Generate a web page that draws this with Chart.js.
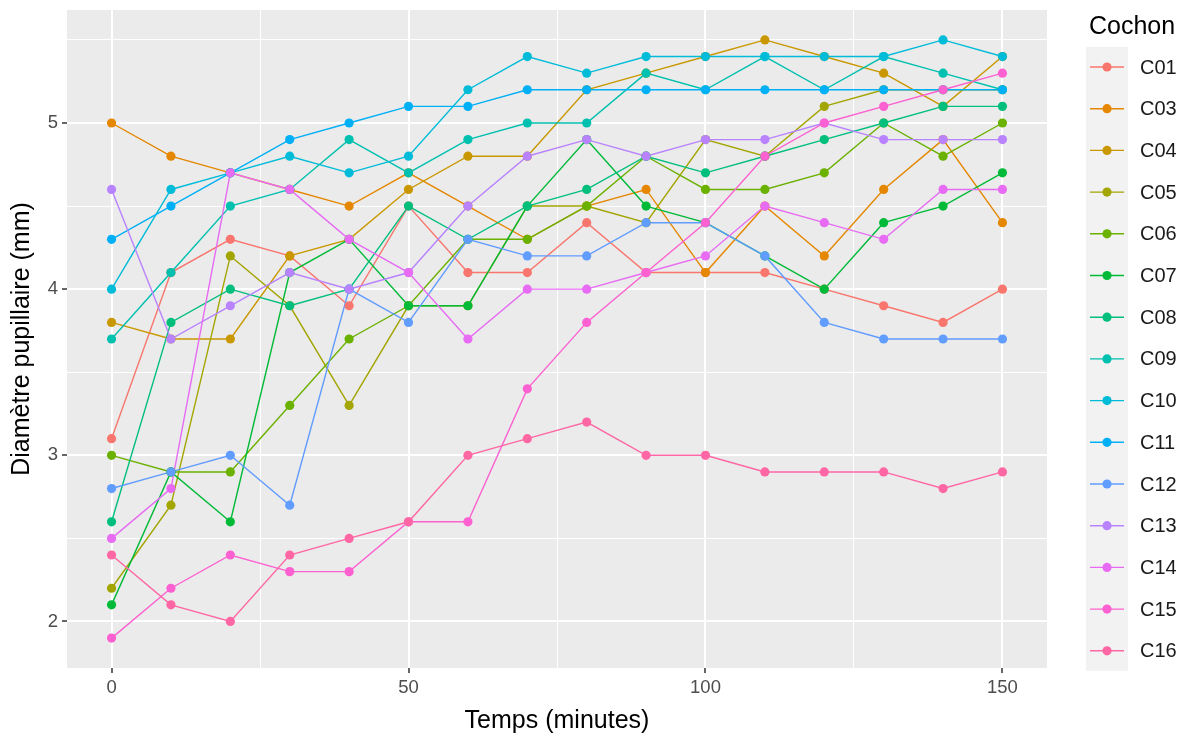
<!DOCTYPE html>
<html lang="fr">
<head>
  <meta charset="UTF-8" />
  <title>Diamètre pupillaire</title>
  <script src="https://cdn.jsdelivr.net/npm/chart.js"></script>
  <style>
    html, body { margin: 0; padding: 0; background: #fff; }
    #wrap { width: 1190px; height: 740px; }
  </style>
</head>
<body>
  <div id="wrap"><canvas id="chart" width="1190" height="740"></canvas></div>

  <script>
    // temps de mesure (minutes)
    const temps = [0, 10, 20, 30, 40, 50, 60, 70, 80, 90, 100, 110, 120, 130, 140, 150];

    // diamètre pupillaire (mm) par cochon
    const C01 = [3.1, 4.1, 4.3, 4.2, 3.9, 4.5, 4.1, 4.1, 4.4, 4.1, 4.1, 4.1, 4.0, 3.9, 3.8, 4.0];
    const C03 = [5.0, 4.8, 4.7, 4.6, 4.5, 4.7, 4.5, 4.3, 4.5, 4.6, 4.1, 4.5, 4.2, 4.6, 4.9, 4.4];
    const C04 = [3.8, 3.7, 3.7, 4.2, 4.3, 4.6, 4.8, 4.8, 5.2, 5.3, 5.4, 5.5, 5.4, 5.3, 5.1, 5.4];
    const C05 = [2.2, 2.7, 4.2, 3.9, 3.3, 3.9, 3.9, 4.5, 4.5, 4.4, 4.9, 4.8, 5.1, 5.2, 5.2, 5.2];
    const C06 = [3.0, 2.9, 2.9, 3.3, 3.7, 3.9, 4.3, 4.3, 4.5, 4.8, 4.6, 4.6, 4.7, 5.0, 4.8, 5.0];
    const C07 = [2.1, 2.9, 2.6, 4.1, 4.3, 3.9, 3.9, 4.5, 4.9, 4.5, 4.4, 4.2, 4.0, 4.4, 4.5, 4.7];
    const C08 = [2.6, 3.8, 4.0, 3.9, 4.0, 4.5, 4.3, 4.5, 4.6, 4.8, 4.7, 4.8, 4.9, 5.0, 5.1, 5.1];
    const C09 = [3.7, 4.1, 4.5, 4.6, 4.9, 4.7, 4.9, 5.0, 5.0, 5.3, 5.2, 5.4, 5.2, 5.4, 5.3, 5.2];
    const C10 = [4.0, 4.6, 4.7, 4.8, 4.7, 4.8, 5.2, 5.4, 5.3, 5.4, 5.4, 5.4, 5.4, 5.4, 5.5, 5.4];
    const C11 = [4.3, 4.5, 4.7, 4.9, 5.0, 5.1, 5.1, 5.2, 5.2, 5.2, 5.2, 5.2, 5.2, 5.2, 5.2, 5.2];
    const C12 = [2.8, 2.9, 3.0, 2.7, 4.0, 3.8, 4.3, 4.2, 4.2, 4.4, 4.4, 4.2, 3.8, 3.7, 3.7, 3.7];
    const C13 = [4.6, 3.7, 3.9, 4.1, 4.0, 4.1, 4.5, 4.8, 4.9, 4.8, 4.9, 4.9, 5.0, 4.9, 4.9, 4.9];
    const C14 = [2.5, 2.8, 4.7, 4.6, 4.3, 4.1, 3.7, 4.0, 4.0, 4.1, 4.2, 4.5, 4.4, 4.3, 4.6, 4.6];
    const C15 = [1.9, 2.2, 2.4, 2.3, 2.3, 2.6, 2.6, 3.4, 3.8, 4.1, 4.4, 4.8, 5.0, 5.1, 5.2, 5.3];
    const C16 = [2.4, 2.1, 2.0, 2.4, 2.5, 2.6, 3.0, 3.1, 3.2, 3.0, 3.0, 2.9, 2.9, 2.9, 2.8, 2.9];

    const cochons = ['C01', 'C03', 'C04', 'C05', 'C06', 'C07', 'C08', 'C09', 'C10', 'C11', 'C12', 'C13', 'C14', 'C15', 'C16'];
    const series = [C01, C03, C04, C05, C06, C07, C08, C09, C10, C11, C12, C13, C14, C15, C16];
    const couleurs = ['#F8766D', '#E58700', '#C99800', '#A3A500', '#6BB100', '#00BA38', '#00BF7D', '#00C0AF',
                      '#00BCD8', '#00B0F6', '#619CFF', '#B983FF', '#E76BF3', '#FD61D1', '#FF67A4'];

    // graduations
    const xMajeurs = [0, 50, 100, 150];
    const xMineurs = [25, 75, 125];
    const yMajeurs = [2, 3, 4, 5];
    const yMineurs = [2.5, 3.5, 4.5, 5.5];

    const POLICE = '"Liberation Sans", Arial, sans-serif';
    const n = series.length;

    // les lignes d'abord, les points par-dessus (comme geom_line + geom_point)
    const datasets = [];
    series.forEach((s, i) => {
      datasets.push({
        label: cochons[i],
        data: temps.map((t, k) => ({ x: t, y: s[k] })),
        borderColor: couleurs[i],
        borderWidth: 1.4,
        pointRadius: 0,
        order: 100 + (n - i)
      });
    });
    series.forEach((s, i) => {
      datasets.push({
        label: cochons[i] + ' pts',
        data: temps.map((t, k) => ({ x: t, y: s[k] })),
        showLine: false,
        backgroundColor: couleurs[i],
        pointBackgroundColor: couleurs[i],
        pointBorderWidth: 0,
        pointRadius: 4.6,
        order: n - i
      });
    });

    function echelle(majeurs, mineurs, min, max, titre, titrePadding, afterFit) {
      const estMajeur = ctx => ctx.tick && majeurs.includes(ctx.tick.value);
      return {
        type: 'linear',
        min: min,
        max: max,
        afterBuildTicks: s => { s.ticks = majeurs.concat(mineurs).sort((a, b) => a - b).map(v => ({ value: v })); },
        afterFit: afterFit,
        border: { display: false },
        grid: {
          color: '#FFFFFF',
          lineWidth: ctx => estMajeur(ctx) ? 2 : 1,
          tickColor: ctx => estMajeur(ctx) ? '#333333' : 'rgba(0,0,0,0)',
          tickLength: 5,
          tickWidth: 1.5
        },
        ticks: {
          autoSkip: false,
          maxRotation: 0,
          minRotation: 0,
          color: '#4D4D4D',
          font: { family: POLICE, size: 18.5 },
          padding: 4,
          callback: v => majeurs.includes(v) ? String(v) : ''
        },
        title: {
          display: true,
          text: titre,
          color: '#000000',
          padding: titrePadding,
          font: { family: POLICE, size: 25 }
        }
      };
    }

    const fondPanneau = {
      id: 'fondPanneau',
      beforeDraw(chart) {
        const { ctx, chartArea: a } = chart;
        ctx.save();
        ctx.fillStyle = '#FFFFFF';
        ctx.fillRect(0, 0, chart.width, chart.height);
        ctx.fillStyle = '#EBEBEB';
        ctx.fillRect(a.left, a.top, a.right - a.left, a.bottom - a.top);
        ctx.restore();
      }
    };

    // légende façon ggplot : titre, clés grisées avec trait + point
    const legendeCochon = {
      id: 'legendeCochon',
      afterDraw(chart) {
        const ctx = chart.ctx;
        const x0 = 1086, y0 = 67, pas = 41.7;
        ctx.save();
        ctx.fillStyle = '#000000';
        ctx.font = '25px ' + POLICE;
        ctx.textBaseline = 'middle';
        ctx.fillText('Cochon', 1089, 27);
        ctx.fillStyle = '#F2F2F2';
        ctx.fillRect(x0, y0 - 20, 42, pas * (n - 1) + 40);
        cochons.forEach((nom, i) => {
          const y = y0 + i * pas;
          ctx.strokeStyle = couleurs[i];
          ctx.lineWidth = 1.4;
          ctx.beginPath();
          ctx.moveTo(x0 + 4, y);
          ctx.lineTo(x0 + 38, y);
          ctx.stroke();
          ctx.fillStyle = couleurs[i];
          ctx.beginPath();
          ctx.arc(x0 + 21, y, 4.6, 0, Math.PI * 2);
          ctx.fill();
          ctx.fillStyle = '#1A1A1A';
          ctx.font = '20px ' + POLICE;
          ctx.fillText(nom, 1140, y + 1);
        });
        ctx.restore();
      }
    };

    new Chart(document.getElementById('chart'), {
      type: 'line',
      data: { datasets: datasets },
      options: {
        responsive: false,
        animation: false,
        devicePixelRatio: 1,
        layout: { padding: { top: 10, right: 143, left: 0, bottom: 0 } },
        plugins: { legend: { display: false }, tooltip: { enabled: false } },
        scales: {
          x: echelle(xMajeurs, xMineurs, -7.5, 157.5, 'Temps (minutes)', { top: 4, bottom: 4 },
            s => { s.height = 72; s.paddingLeft = 0; s.paddingRight = 0; }),
          y: echelle(yMajeurs, yMineurs, 1.72, 5.68, 'Diamètre pupillaire (mm)', { top: 7, bottom: 4 },
            s => { s.width = 67; s.paddingTop = 0; s.paddingBottom = 0; })
        }
      },
      plugins: [fondPanneau, legendeCochon]
    });
  </script>
</body>
</html>
